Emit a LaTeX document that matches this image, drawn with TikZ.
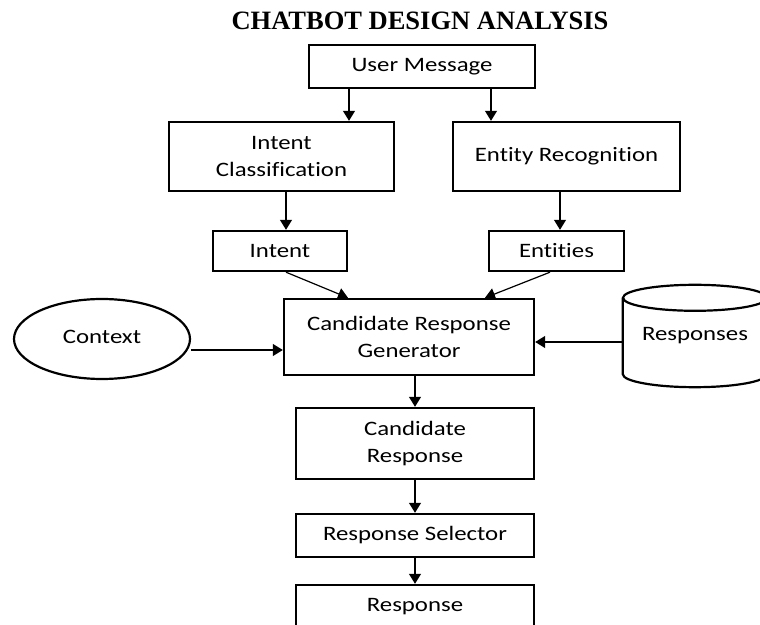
\documentclass[tikz,border=0pt]{standalone}
\usepackage{fontspec}
\setmainfont{Carlito}[FakeStretch=1.21, Ligatures={NoCommon}]
\newfontfamily\titlefont{Liberation Serif}
\usetikzlibrary{arrows.meta,shapes.geometric}

\tikzset{
  box/.style={draw, line width=2.4pt, rectangle, inner sep=0pt, align=center,
              font=\fontsize{20.5}{27}\selectfont},
  ovalbox/.style={draw, line width=2.2pt, ellipse, inner sep=0pt,
              font=\fontsize{20.5}{27}\selectfont},
  dbbox/.style={rectangle, inner sep=0pt, font=\fontsize{20.5}{27}\selectfont},
  dbline/.style={line width=2.2pt},
  arr/.style={line width=1.2pt, -{Triangle[width=12pt,length=10pt]}},
}

\begin{document}
\begin{tikzpicture}[x=1pt,y=1pt]
  \useasboundingbox (0,0) rectangle (760,624);

  % title
  \node[anchor=base, font=\titlefont\bfseries\fontsize{26.5}{30}\selectfont]
    (title) at (420,594.7) {CHATBOT DESIGN ANALYSIS};

  % boxes
  \node[box, minimum width=226, minimum height=43] (um) at (422,557.5) {User Message};
  \node[box, minimum width=225, minimum height=69] (ic) at (281.5,467.5) {Intent\\Classification};
  \node[box, minimum width=227, minimum height=69] (er) at (566.5,467.5) {\raisebox{5pt}{Entity Recognition}};
  \node[box, minimum width=134, minimum height=40] (intent) at (280,373) {Intent};
  \node[box, minimum width=135, minimum height=40] (ents) at (556.5,373) {Entities};
  \node[box, minimum width=250, minimum height=76] (crg) at (409,287) {Candidate Response\\Generator};
  \node[box, minimum width=238, minimum height=71] (cr) at (415,180.5) {Candidate\\Response};
  \node[box, minimum width=238, minimum height=43] (rs) at (415,88.5) {Response Selector};
  \node[box, minimum width=238, minimum height=44] (resp) at (415,17) {Response};

  % context ellipse
  \node[ovalbox, minimum width=176, minimum height=80] (ctx) at (102,285) {\raisebox{5pt}{Context}};

  % responses store (cylinder)
  \node[dbbox, minimum width=144, minimum height=102] (db) at (695,288) {Responses};
  \draw[dbline] ([yshift=-13pt]db.north) ellipse[x radius=72pt, y radius=13pt];
  \draw[dbline] ([yshift=-13pt]db.north west) -- ([yshift=13pt]db.south west)
    arc[start angle=180, end angle=360, x radius=72pt, y radius=13pt]
    -- ([yshift=-13pt]db.north east);

  % connectors
  \draw[arr] (um.south -| 349,0) -- (ic.north -| 349,0);
  \draw[arr] (um.south -| 491,0) -- (er.north -| 491,0);
  \draw[arr] (ic.south -| 286,0) -- (intent.north -| 286,0);
  \draw[arr] (er.south -| 560,0) -- (ents.north -| 560,0);
  \draw[arr] ([xshift=6pt]intent.south) -- ([xshift=-61pt]crg.north);
  \draw[arr] ([xshift=-6.5pt]ents.south) -- ([xshift=76pt]crg.north);
  \draw[arr] ([yshift=-11pt]ctx.east) -- ([yshift=-11pt]ctx.east -| crg.west);
  \draw[arr] ([yshift=-6pt]db.west) -- ([yshift=-6pt]db.west -| crg.east);
  \draw[arr] (crg.south -| cr.north) -- (cr.north);
  \draw[arr] (cr.south) -- (rs.north);
  \draw[arr] (rs.south) -- (resp.north);
\end{tikzpicture}
\end{document}
